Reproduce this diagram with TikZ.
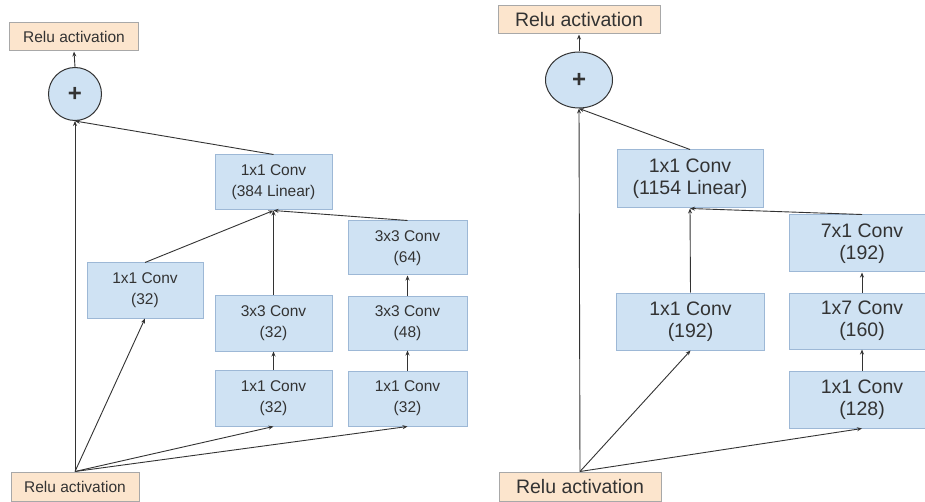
\documentclass[tikz,border=0pt]{standalone}
\usepackage{fontspec}
\setmainfont{Liberation Sans}
\usetikzlibrary{arrows.meta,shapes.geometric}
\definecolor{convfill}{HTML}{CFE2F3}
\definecolor{convline}{HTML}{9DB8D6}
\definecolor{relufill}{HTML}{FCE5CD}
\definecolor{reluline}{HTML}{A8A8A8}
\definecolor{ink}{HTML}{333333}
\tikzset{
  smallfont/.style={font=\fontsize{15.5}{21}\selectfont},
  bigfont/.style={font=\fontsize{19.5}{22}\selectfont},
  conv/.style={draw=convline, fill=convfill, line width=1pt, text=ink,
    align=center, inner sep=0pt},
  relu/.style={draw=reluline, fill=relufill, line width=1pt, text=ink,
    align=center, inner sep=0pt},
  addop/.style={draw=ink, fill=convfill, line width=1pt, text=ink,
    inner sep=0pt, font=\fontsize{24}{24}\selectfont\bfseries},
  link/.style={draw=ink, line width=0.9pt, -{Stealth[length=5pt,width=4pt]}},
  plain/.style={draw=ink, line width=0.9pt},
}
\begin{document}
\begin{tikzpicture}[x=1pt, y=-1pt]
\useasboundingbox[fill=white] (0,0) rectangle (925,502);

% ---- Inception-ResNet-A block ----
\begin{scope}[smallfont]
\node[relu, minimum width=129pt, minimum height=28pt] (reluT) at (74,37) {Relu activation};
\node[addop, circle, minimum size=53pt] (plusL) at (75,94) {+};
\node[conv, minimum width=117pt, minimum height=55pt] (lin384) at (273.5,182.5) {1x1 Conv\\(384 Linear)};
\node[conv, minimum width=119pt, minimum height=54pt] (c64) at (407.5,248) {3x3 Conv\\(64)};
\node[conv, minimum width=116pt, minimum height=55pt] (c32a) at (145,290.5) {1x1 Conv\\(32)};
\node[conv, minimum width=117pt, minimum height=56pt] (c32b) at (273.5,323) {3x3 Conv\\(32)};
\node[conv, minimum width=119pt, minimum height=54pt] (c48) at (407.5,323) {3x3 Conv\\(48)};
\node[conv, minimum width=117pt, minimum height=56pt] (c32c) at (273.5,398) {1x1 Conv\\(32)};
\node[conv, minimum width=119pt, minimum height=55pt] (c32d) at (407.5,398.5) {1x1 Conv\\(32)};
\node[relu, minimum width=128pt, minimum height=29pt] (reluB) at (75,486.5) {Relu activation};
\end{scope}
\coordinate (srcL) at (reluB.north);

\draw[link] (srcL) -- (plusL.south);
\draw[link] (srcL) -- (c32a.south);
\draw[link] (srcL) -- (c32c.south);
\draw[link] (srcL) -- (c32d.south);
\draw[link] (c32c) -- (c32b);
\draw[link] (c32d) -- (c48);
\draw[link] (c48) -- (c64);
\draw[link] (c32a.north) -- (lin384.south);
\draw[link] (c32b.north) -- (lin384.south);
\draw[link] (c64.north) -- (lin384.south);
\draw[link] (lin384.north) -- (plusL.south);
\draw[link] (plusL.north) -- (reluT.south);

% ---- Inception-ResNet-B block ----
\begin{scope}[bigfont]
\node[relu, minimum width=162pt, minimum height=28pt] (reluT2) at (579,20) {Relu activation};
\node[addop, ellipse, minimum width=67pt, minimum height=56pt] (plusR) at (579,80) {+};
\node[conv, minimum width=146pt, minimum height=58pt] (lin1154) at (690,179) {1x1 Conv\\(1154 Linear)};
\node[conv, minimum width=146pt, minimum height=57pt] (c192b) at (862,243.5) {7x1 Conv\\(192)};
\node[conv, minimum width=148pt, minimum height=57pt] (c192a) at (690.5,321.5) {1x1 Conv\\(192)};
\node[conv, minimum width=146pt, minimum height=56pt] (c160) at (862,321) {1x7 Conv\\(160)};
\node[conv, minimum width=146pt, minimum height=57pt] (c128) at (862,399.5) {1x1 Conv\\(128)};
\node[relu, minimum width=162pt, minimum height=29pt] (reluB2) at (580,486.5) {Relu activation};
\end{scope}
\coordinate (srcR) at (reluB2.north);

\draw[link] (srcR) -- (plusR.south);
\draw[link] (srcR) -- (c192a.south);
\draw[link] (srcR) -- (c128.south);
\draw[link] (c128) -- (c160);
\draw[link] (c160) -- (c192b);
\draw[link] (c192a.north) -- (lin1154.south);
\draw[link] (c192b.north) -- (lin1154.south);
\draw[link] (lin1154.north) -- (plusR.south);
\draw[link] (plusR.north) -- (reluT2.south);
\end{tikzpicture}
\end{document}
